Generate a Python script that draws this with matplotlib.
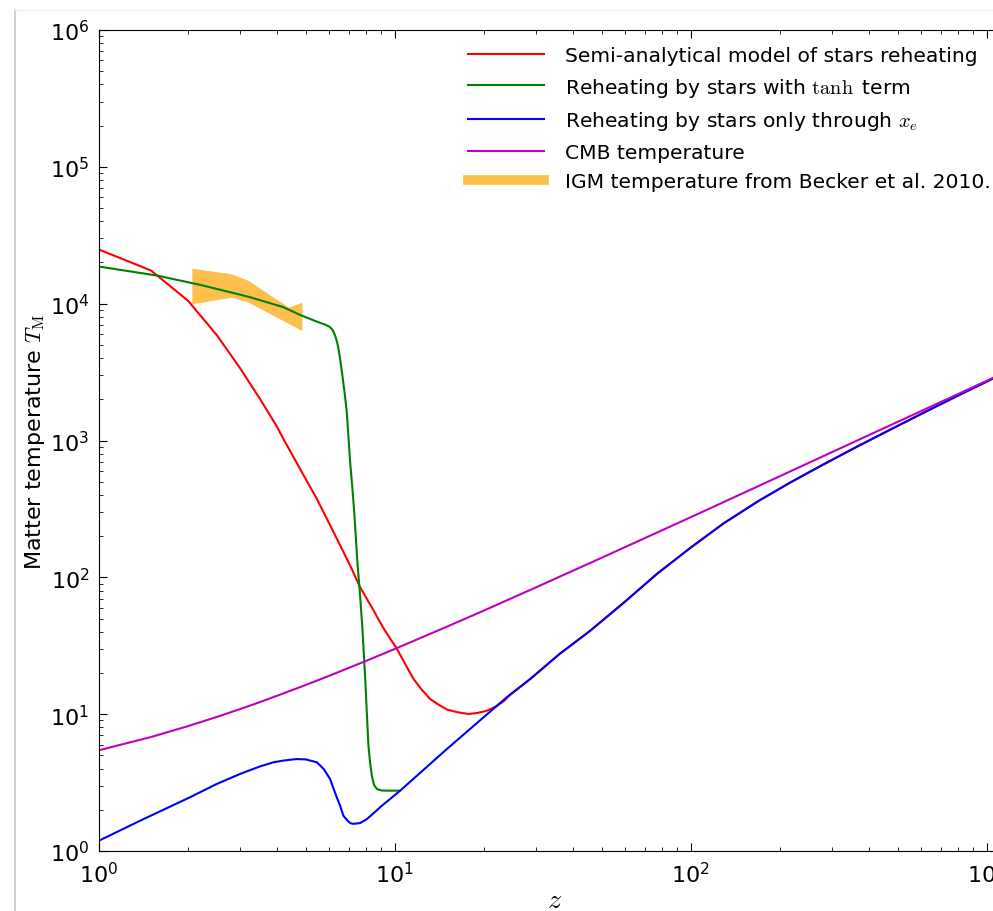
import matplotlib
matplotlib.use("Agg")
import matplotlib.pyplot as plt
from matplotlib.lines import Line2D

plt.rcParams["font.family"] = ["DejaVu Sans"]
plt.rcParams["mathtext.fontset"] = "cm"

# redshift / temperature
red_z = [1.0, 1.5, 2.0, 2.5, 3.0, 3.5, 4.0, 4.2, 4.78, 5.45, 6.2, 7.06, 7.63, 8.4,
         9.15, 10.16, 10.8, 11.56, 12.3, 13.16, 14.0, 15.0, 16.3, 17.74, 19.0,
         20.47, 22.0, 23.3, 24.5]
red_T = [24850, 17460, 10500, 5900, 3370, 2014, 1257, 1027, 621, 374, 215, 122,
         84.7, 59.2, 42.5, 30.0, 23.6, 18.1, 15.2, 12.9, 11.8, 10.8, 10.33, 10.03,
         10.2, 10.6, 11.4, 12.4, 13.8]

green_z = [1.0, 1.57, 2.2, 2.77, 3.24, 4.2, 4.78, 5.45, 5.81, 6.0, 6.12, 6.2, 6.28,
           6.37, 6.45, 6.53, 6.6, 6.67, 6.78, 6.88, 6.97, 7.06, 7.18, 7.29, 7.38,
           7.47, 7.63, 7.77, 7.94, 8.04, 8.14, 8.25, 8.36, 8.5, 8.69, 9.0, 9.4, 10.4]
green_T = [18670, 16050, 13720, 12140, 11150, 9430, 8280, 7390, 7030, 6800, 6550,
           6250, 5850, 5300, 4670, 3950, 3350, 2820, 2130, 1610, 1057, 694, 456, 299,
           196, 129, 73.5, 42.0, 18.1, 10.3, 5.89, 4.4, 3.55, 3.05, 2.84, 2.77, 2.76,
           2.76]

blue_z = [1.0, 1.376, 2.03, 2.5, 3.0, 3.5, 3.89, 4.2, 4.66, 5.0, 5.45, 5.75, 6.04,
          6.3, 6.53, 6.7, 6.9, 7.06, 7.24, 7.45, 7.63, 8.04, 8.5, 8.92, 10.42, 15.0,
          23.9, 28.7, 36.0, 45.8, 60.0, 76.9, 100, 129.2, 170, 217, 280, 365, 470,
          614, 800, 1055, 1200]
blue_T = [1.19, 1.663, 2.47, 3.09, 3.66, 4.15, 4.45, 4.58, 4.70, 4.67, 4.45, 3.97,
          3.36, 2.61, 2.14, 1.81, 1.68, 1.60, 1.58, 1.59, 1.60, 1.71, 1.90, 2.09, 2.76,
          5.57, 13.3, 18.1, 27.5, 40.8, 66.5, 106, 165, 248, 363, 493, 666, 902, 1193,
          1600, 2128, 2849, 3257]

cmb_z = [1.0, 1.5, 2.0, 2.5, 3.0, 3.5, 4.0, 5.0, 6.0, 8.0, 10, 15, 20, 30, 50, 100,
         200, 400, 700, 1200]
cmb_T = [5.45, 6.81, 8.18, 9.54, 10.9, 12.26, 13.63, 16.35, 19.08, 24.53, 29.98,
         43.6, 57.2, 84.5, 139, 275, 548, 1095, 1910, 3273]

igm_z = [2.06, 2.81, 3.2, 4.37, 4.85]
igm_lo = [9970, 11160, 10250, 7160, 6360]
igm_hi = [18170, 16510, 14750, 9430, 10250]

W, H = 993, 912
fig = plt.figure(figsize=(W / 100, H / 100), dpi=100)
ax = fig.add_axes([99 / W, (H - 852) / H, (1010 - 99) / W, (852 - 31) / H])

# red follows the blue curve once they merge
tail = blue_z.index(28.7)
ax.plot(red_z + blue_z[tail:], red_T + blue_T[tail:], color="r", lw=1.5,
        label="Semi-analytical model of stars reheating")
ax.plot(green_z, green_T, color="g", lw=1.5,
        label=r"Reheating by stars with $\tanh$ term")
ax.plot(blue_z, blue_T, color="b", lw=1.5,
        label=r"Reheating by stars only through $x_e$")
ax.plot(cmb_z, cmb_T, color="m", lw=1.5, label="CMB temperature")
ax.fill_between(igm_z, igm_lo, igm_hi, color="orange", alpha=0.7, lw=0)
proxy = Line2D([], [], color="orange", alpha=0.7, lw=7,
               label="IGM temperature from Becker et al. 2010.")

ax.set_xscale("log")
ax.set_yscale("log")
ax.set_xlim(1, 1200)
ax.set_ylim(1, 1e6)
ax.tick_params(which="both", direction="in", top=True, right=True, labelsize=16)
ax.tick_params(which="major", length=5.5, pad=7)
ax.tick_params(which="minor", length=2.8)
ax.set_xlabel("$z$", fontsize=20, labelpad=-1)
ax.set_ylabel(r"Matter temperature $T_{\rm M}$", fontsize=16, labelpad=2)

handles, labels = ax.get_legend_handles_labels()
handles.append(proxy)
labels.append(proxy.get_label())
ax.legend(handles, labels, loc="upper left", bbox_to_anchor=(468 / W, 1 - 47 / H),
          bbox_transform=fig.transFigure, frameon=False, fontsize=14.6,
          handlelength=3.75, handletextpad=1.05, labelspacing=0.52,
          borderpad=0, borderaxespad=0)

# screenshot border
fig.add_artist(Line2D([15 / W, 15 / W], [0, 1 - 11 / H], color="#d0d0d0", lw=1.5,
                      transform=fig.transFigure))
fig.add_artist(Line2D([15 / W, 1], [1 - 11 / H, 1 - 11 / H], color="#f0f0f0", lw=1,
                      transform=fig.transFigure))

fig.savefig("out.png", dpi=100)
